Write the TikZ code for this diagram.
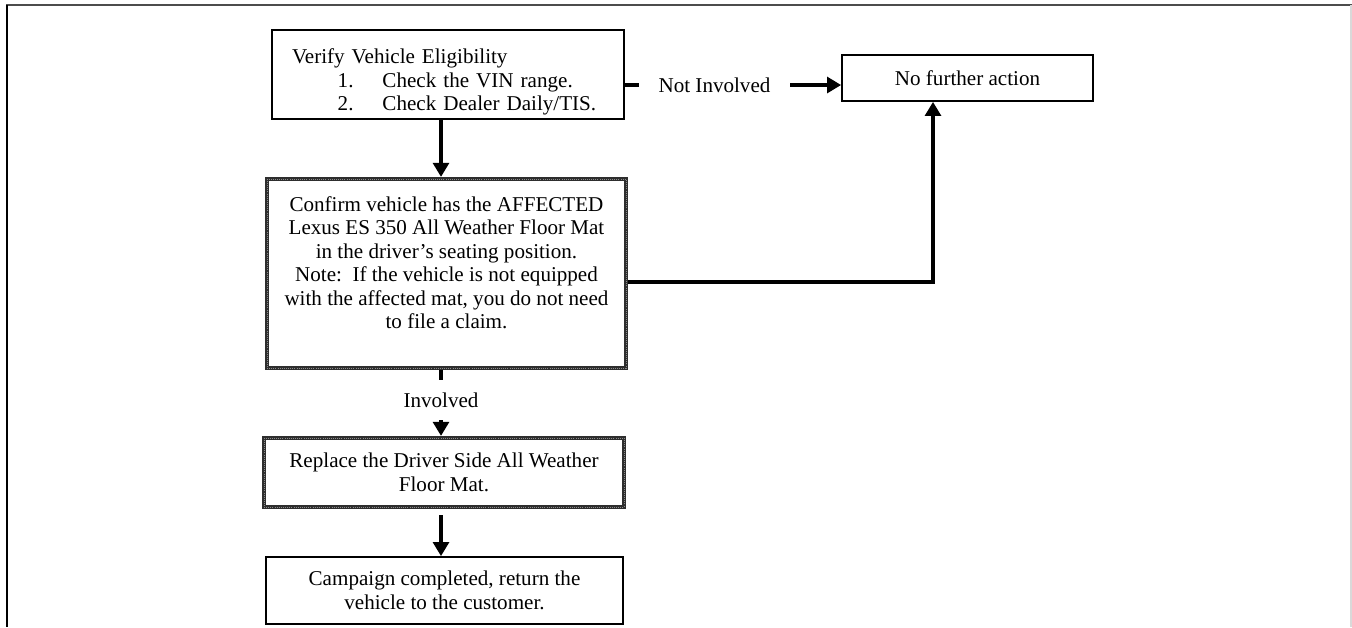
\documentclass[tikz,border=0pt]{standalone}
\usepackage{fontspec}
\setmainfont{Liberation Serif}
\usetikzlibrary{arrows.meta}

\begin{document}
\begin{tikzpicture}[x=0.02cm,y=-0.02cm,
    font=\fontsize{12}{13.4}\selectfont,
    box/.style={draw,line width=1pt,inner sep=0pt,align=center},
    heavybox/.style={box,draw=black!82,line width=2.4pt,
      postaction={draw=black!45,line width=0.5pt,dash pattern=on 0.5pt off 0.7pt}},
    flowline/.style={line width=1.9pt},
    flow/.style={flowline,-{Triangle[length=8pt,width=9pt]}}]
  \useasboundingbox (0,0) rectangle (1352,627);
  % page frame
  \draw[black!70,line width=1.3pt] (6,5) -- (1352,5);
  \draw[line width=0.9pt] (7,5) -- (7,627);
  \draw[black!15,line width=0.6pt] (1351,5) -- (1351,627);
  \coordinate (spine) at (441,0);
  \coordinate (turn) at (933,282);
  \draw
    (448,74.5) node[box,minimum width=7.04cm,minimum height=1.78cm,
      text width=6.24cm,align=left] (verify){\rule{0pt}{17pt}Verify Vehicle Eligibility\\
      \hspace*{26pt}\makebox[25.5pt][l]{1.}Check the VIN range.\\
      \hspace*{26pt}\makebox[25.5pt][l]{2.}Check Dealer Daily/TIS.}
    (967.5,78) node[box,minimum width=5.02cm,minimum height=0.92cm] (nofurther){No further action}
    (714.5,85) node[minimum width=3.02cm,inner sep=0pt] (notinv){Not Involved}
    (446.5,273.5) node[heavybox,minimum width=7.18cm,minimum height=3.78cm] (confirm){Confirm vehicle has the AFFECTED\\
      Lexus ES 350 All Weather Floor Mat\\
      in the driver’s seating position.\\
      Note:\ \ If the vehicle is not equipped\\
      with the affected mat, you do not need\\
      to file a claim.\\[-1pt]\mbox{}}
    (441,400) node[minimum height=0.8cm,inner sep=0pt] (inv){Involved}
    (444,472.5) node[heavybox,minimum width=7.2cm,minimum height=1.38cm] (replace){Replace the Driver Side All Weather\\
      Floor Mat.}
    (444.5,590.5) node[box,minimum width=7.14cm,minimum height=1.34cm] (done){Campaign completed, return the\\
      vehicle to the customer.};
  \begin{scope}[flow]
    \draw[-] (verify.east |- notinv.west) to (notinv.west);
    \draw (notinv.east) to (nofurther.west |- notinv.east);
    \draw (verify.south -| spine) to (confirm.north -| spine);
    \draw (confirm.east |- turn) -| (nofurther.south -| turn);
    \draw[-] (confirm.south -| inv) to (inv.north);
    \draw (inv.south) to (replace.north -| inv);
    \draw[shorten <=3.4pt] (replace.south -| spine) to (done.north -| spine);
  \end{scope}
\end{tikzpicture}
\end{document}
